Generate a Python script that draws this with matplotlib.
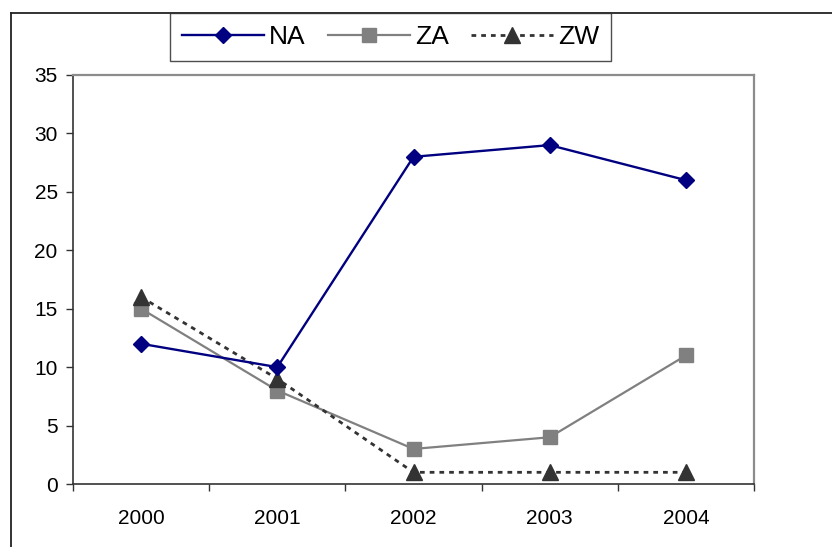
import matplotlib.pyplot as plt
from matplotlib.lines import Line2D

plt.rcParams['font.family'] = ['Liberation Sans', 'DejaVu Sans']

# Data
years = ['2000', '2001', '2002', '2003', '2004']
na = [12, 10, 28, 29, 26]
za = [15, 8, 3, 4, 11]
zw = [16, 9, 1, 1, 1]

W, H = 832, 547
fig = plt.figure(figsize=(W / 100, H / 100), dpi=100)
ax = fig.add_axes([73 / W, 1 - 484 / H, (754 - 73) / W, (484 - 75) / H])

x = range(len(years))
ax.plot(x, za, color='#808080', lw=1.6, marker='s', markersize=10.5, label='ZA', zorder=3)
ax.plot(x, zw, color='#333333', lw=2.0, ls=(0, (1.7, 1.8)), marker='^', markersize=11.5,
        label='ZW', zorder=4)
ax.plot(x, na, color='#000080', lw=1.7, marker='D', markersize=8, label='NA', zorder=5)

ax.set_xlim(-0.5, len(years) - 0.5)
ax.set_ylim(0, 35)
ax.set_yticks(range(0, 36, 5))
ax.set_xticks(list(x))
ax.set_xticklabels(years)
ax.set_xticks([i - 0.5 for i in range(len(years) + 1)], minor=True)
ax.tick_params(axis='x', which='major', length=0, pad=18, labelsize=15)
ax.tick_params(axis='x', which='minor', length=5, width=1, color='#333333', direction='out')
ax.tick_params(axis='y', length=5, width=1, color='#333333', pad=6, labelsize=15)

for s in ['left', 'bottom']:
    ax.spines[s].set_color('#333333')
    ax.spines[s].set_linewidth(1.2)
for s in ['top', 'right']:
    ax.spines[s].set_color('#8c8c8c')
    ax.spines[s].set_linewidth(1.6)

# outer chart border (partially cropped)
fig.add_artist(Line2D([11 / W, 11 / W], [0, 1 - 13 / H], color='#222222', lw=1.3))
fig.add_artist(Line2D([11 / W, 1], [1 - 13 / H, 1 - 13 / H], color='#222222', lw=1.3))

handles, labels = ax.get_legend_handles_labels()
order = [2, 0, 1]
leg = fig.legend([handles[i] for i in order], [labels[i] for i in order],
                 loc='upper left', bbox_to_anchor=(170 / W, 1 - 13 / H), borderaxespad=0,
                 ncol=3, fontsize=19, frameon=True, fancybox=False, handlelength=3.1,
                 handletextpad=0.2, columnspacing=0.85, borderpad=0.45)
leg.get_frame().set_edgecolor('#222222')
leg.get_frame().set_linewidth(1.0)

fig.savefig('out.png', dpi=100)
